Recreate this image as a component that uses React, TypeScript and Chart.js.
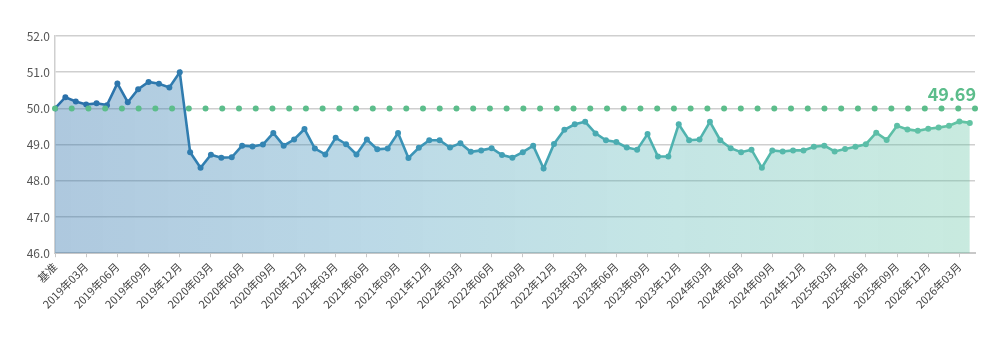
import React, { useEffect, useRef } from 'react';
import { Chart, registerables } from 'chart.js';

Chart.register(...registerables);

// Axis labels (every third month; the first point is the baseline "基准")
const tickLabels: string[] = [
  '基准',
  '2019年03月', '2019年06月', '2019年09月', '2019年12月',
  '2020年03月', '2020年06月', '2020年09月', '2020年12月',
  '2021年03月', '2021年06月', '2021年09月', '2021年12月',
  '2022年03月', '2022年06月', '2022年09月', '2022年12月',
  '2023年03月', '2023年06月', '2023年09月', '2023年12月',
  '2024年03月', '2024年06月', '2024年09月', '2024年12月',
  '2025年03月', '2025年06月', '2025年09月', '2026年12月',
  '2026年03月',
];

// Monthly index values (point 0 = baseline)
const values: number[] = [
  50.00, 50.31, 50.19, 50.11, 50.14, 50.09, 50.69, 50.17, 50.53, 50.73,
  50.68, 50.58, 51.00, 48.79, 48.36, 48.72, 48.64, 48.65, 48.97, 48.95,
  49.00, 49.32, 48.97, 49.14, 49.43, 48.89, 48.73, 49.19, 49.01, 48.73,
  49.14, 48.87, 48.89, 49.32, 48.63, 48.91, 49.12, 49.12, 48.92, 49.04,
  48.80, 48.84, 48.90, 48.71, 48.64, 48.79, 48.97, 48.34, 49.02, 49.41,
  49.56, 49.63, 49.31, 49.12, 49.07, 48.92, 48.86, 49.29, 48.67, 48.67,
  49.56, 49.12, 49.14, 49.63, 49.12, 48.90, 48.79, 48.86, 48.36, 48.84,
  48.81, 48.84, 48.84, 48.94, 48.97, 48.81, 48.88, 48.94, 49.01, 49.33,
  49.13, 49.52, 49.42, 49.38, 49.44, 49.47, 49.52, 49.64, 49.60,
];

// Reference line at 50 drawn as a row of dots
const baselineValue = 50;
const baselineDotCount = 56;
const baselineDots: number[] = Array(baselineDotCount).fill(baselineValue);
const endLabel = '49.69';

const yMin = 46;
const yMax = 52;
const yTickValues: number[] = [46, 47, 48, 49, 50, 51, 52];
const xMax = 88.5;

const FONT = '"Noto Sans CJK SC", "Noto Sans", sans-serif';

function hGrad(ctx: CanvasRenderingContext2D, area: any, stops: [number, string][]) {
  const g = ctx.createLinearGradient(area.left, 0, area.right, 0);
  stops.forEach(([o, c]) => g.addColorStop(o, c));
  return g;
}

const lineStops: [number, string][] = [
  [0, '#2a6fa9'],
  [0.35, '#3990b8'],
  [0.65, '#4db1b0'],
  [1, '#63c4a3'],
];
const fillStops: [number, string][] = [
  [0, 'rgba(42,111,169,0.38)'],
  [0.35, 'rgba(57,144,184,0.34)'],
  [0.65, 'rgba(77,177,176,0.33)'],
  [1, 'rgba(99,196,163,0.35)'],
];

const endLabelPlugin = {
  id: 'endLabel',
  afterDatasetsDraw(chart: any) {
    const { ctx, chartArea, scales } = chart;
    const y = scales.y.getPixelForValue(baselineValue);
    ctx.save();
    ctx.font = `bold 18px ${FONT}`;
    ctx.fillStyle = '#5cbd8b';
    ctx.textAlign = 'right';
    ctx.textBaseline = 'alphabetic';
    ctx.fillText(endLabel, chartArea.right + 1, y - 7);
    ctx.restore();
  },
};

export default function App() {
  const canvasRef = useRef<HTMLCanvasElement | null>(null);

  useEffect(() => {
    document.body.style.margin = '0';
    const canvas = canvasRef.current;
    if (!canvas) return;

    const lineColor = (c: any) => {
      const area = c.chart.chartArea;
      if (!area) return '#3990b8';
      return hGrad(c.chart.ctx, area, lineStops);
    };
    const fillColor = (c: any) => {
      const area = c.chart.chartArea;
      if (!area) return 'rgba(57,144,184,0.35)';
      return hGrad(c.chart.ctx, area, fillStops);
    };

    const chart = new Chart(canvas, {
      type: 'line',
      data: {
        datasets: [
          {
            label: 'baseline',
            data: baselineDots,
            xAxisID: 'x2',
            showLine: false,
            pointRadius: 3,
            pointBorderWidth: 0,
            pointBackgroundColor: '#5cbd8b',
            borderColor: '#5cbd8b',
            order: 0,
          } as any,
          {
            label: 'index',
            data: values.map((v, i) => ({ x: i, y: v })),
            xAxisID: 'x',
            borderColor: lineColor,
            backgroundColor: fillColor,
            pointBackgroundColor: lineColor,
            pointBorderWidth: 0,
            pointRadius: 3,
            borderWidth: 2.6,
            tension: 0,
            fill: 'start',
            order: 1,
          } as any,
        ],
      },
      options: {
        animation: false,
        responsive: true,
        maintainAspectRatio: false,
        layout: { padding: { left: 0, right: 25, top: 36, bottom: 37 } },
        plugins: {
          legend: { display: false },
          tooltip: { enabled: false },
        },
        scales: {
          x: {
            type: 'linear',
            min: 0,
            max: xMax,
            afterBuildTicks: (scale: any) => {
              scale.ticks = tickLabels.map((_, k) => ({ value: k * 3 }));
            },
            ticks: {
              autoSkip: false,
              maxRotation: 45,
              minRotation: 45,
              color: '#444',
              font: { family: FONT, size: 11 },
              padding: 3,
              callback: (v: any) => tickLabels[Math.round(Number(v) / 3)],
            },
            grid: {
              drawOnChartArea: false,
              drawTicks: true,
              tickLength: 4,
              color: '#c8c8c8',
            },
            border: { display: true, color: '#c8c8c8', width: 2 },
          },
          x2: {
            type: 'category',
            labels: baselineDots.map(() => ''),
            display: false,
            offset: false,
          },
          y: {
            min: yMin,
            max: yMax,
            afterBuildTicks: (scale: any) => {
              scale.ticks = yTickValues.map((v) => ({ value: v }));
            },
            afterFit: (scale: any) => {
              scale.width = 55;
            },
            ticks: {
              color: '#555',
              font: { family: FONT, size: 12 },
              padding: 5,
              callback: (v: any) => Number(v).toFixed(1),
            },
            grid: {
              color: '#cfcfcf',
              lineWidth: 1.5,
              drawTicks: false,
            },
            border: { display: true, color: '#cfcfcf', width: 1.5 },
          },
        },
      },
      plugins: [endLabelPlugin],
    });

    return () => chart.destroy();
  }, []);

  return (
    <div style={{ position: 'relative', width: 1000, height: 351 }}>
      <canvas ref={canvasRef} />
    </div>
  );
}
